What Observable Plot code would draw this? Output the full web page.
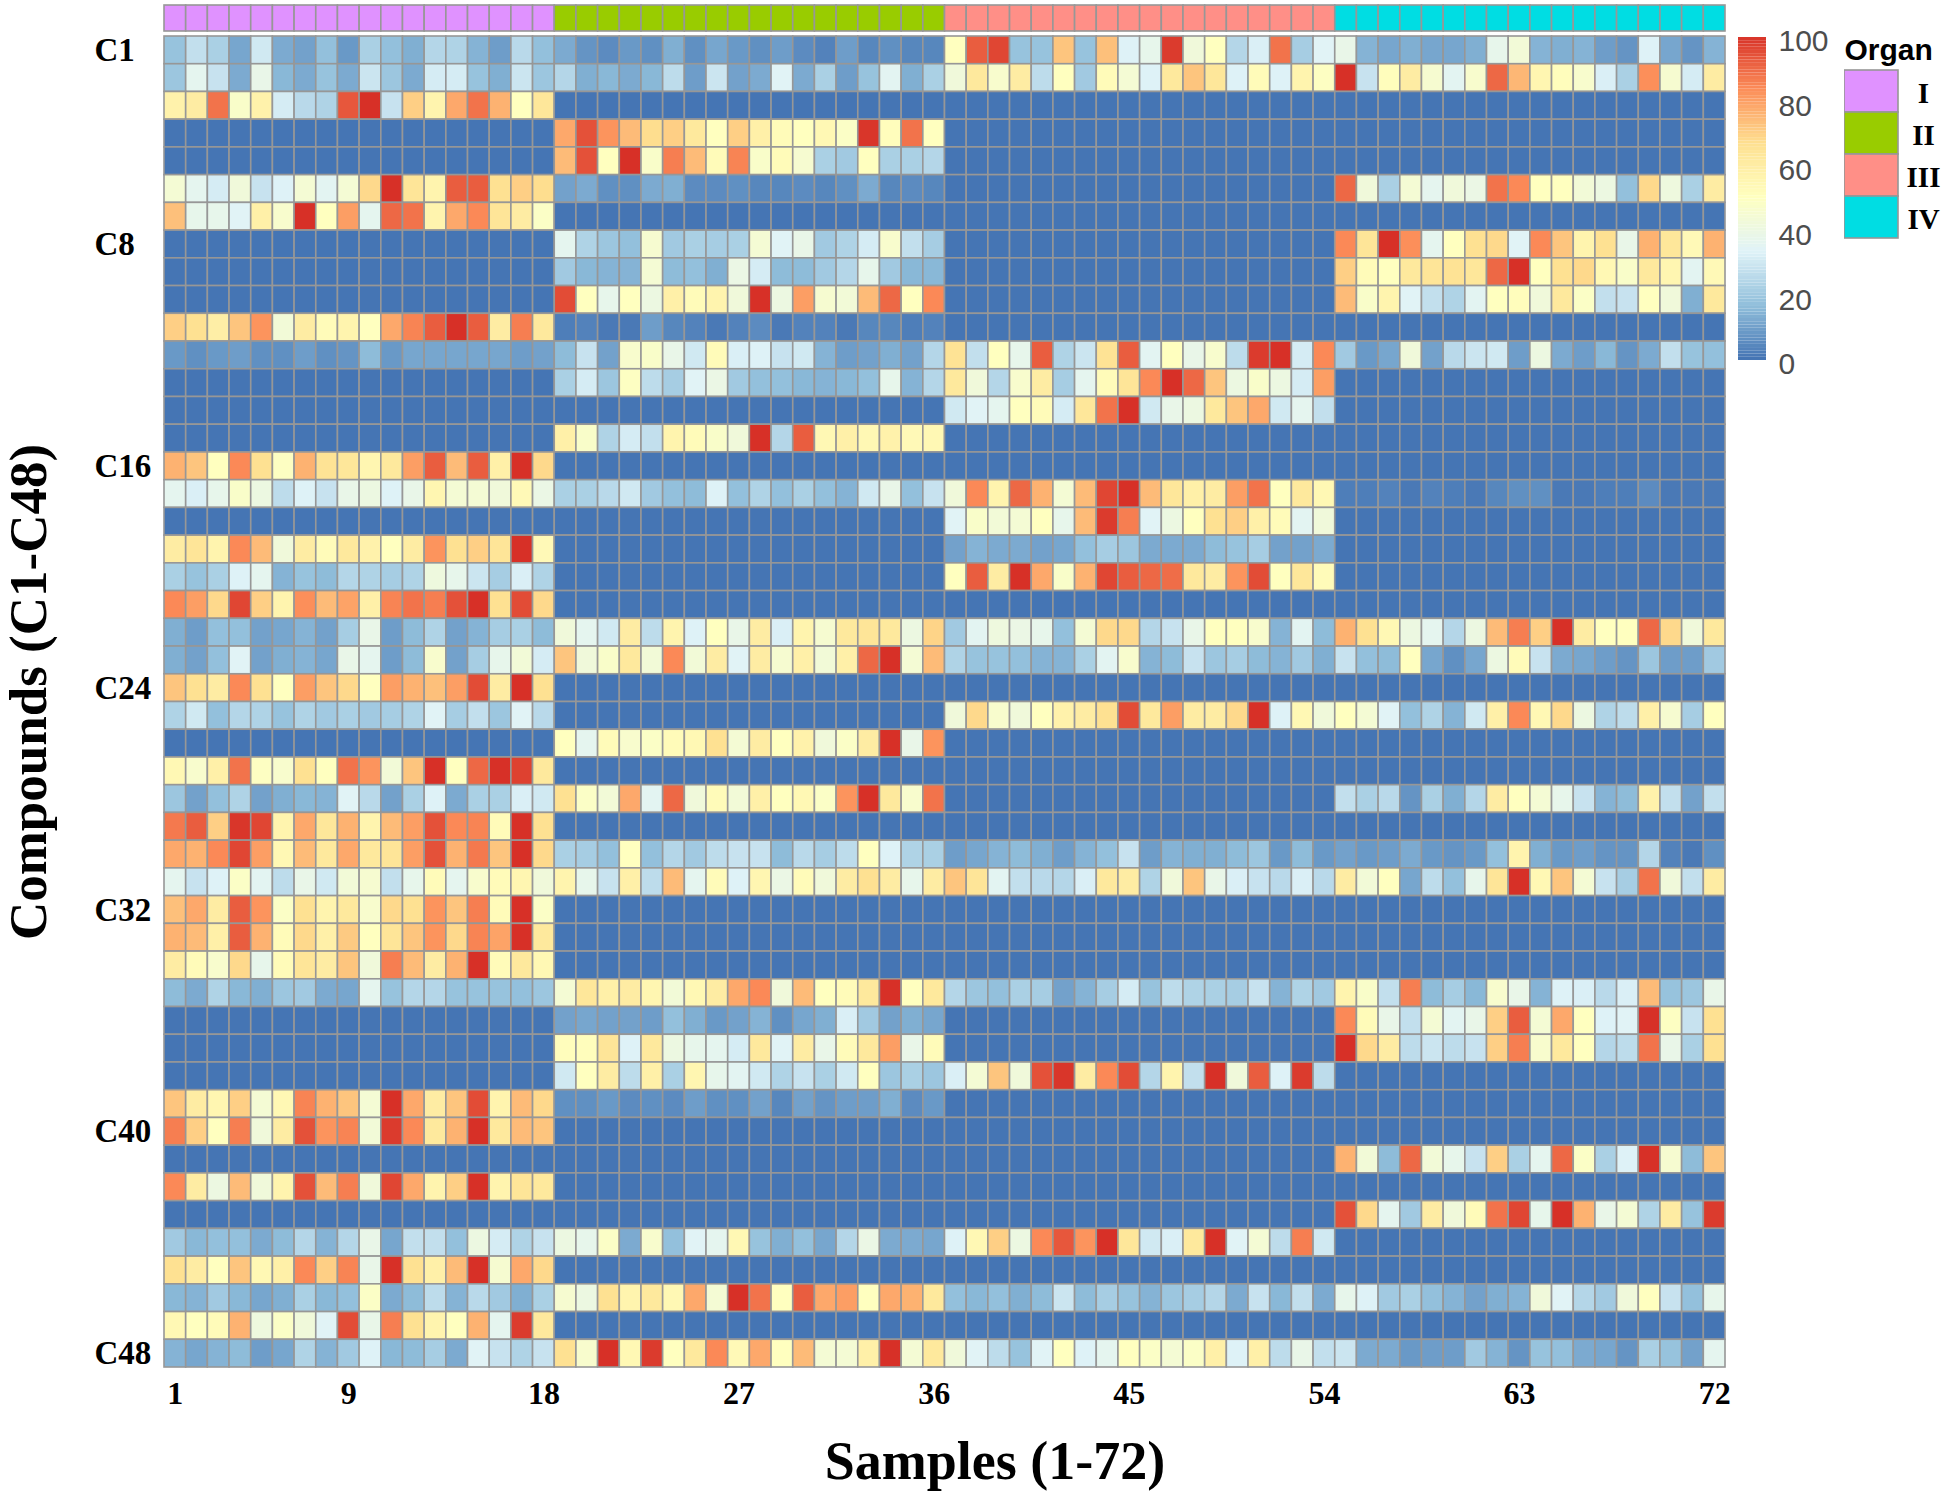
<!DOCTYPE html>
<html><head><meta charset="utf-8">
<script src="https://cdn.jsdelivr.net/npm/d3@7"></script>
<script src="https://cdn.jsdelivr.net/npm/@observablehq/plot@0.6"></script>
<style>
html,body{margin:0;padding:0;background:#fff}
#stage{position:relative;width:1948px;height:1494px;overflow:hidden}
#stage>*{position:absolute}
</style></head><body><div id="stage"></div>
<script>
const off=[0,0,0,0,0,0,0,0,0,0,0,0,0,0,0,0,0,0];
const C1=[18,27,22,11,30,12,10,17,8,22,17,13,24,23,14,9,25,17,12,7,5,8,6,13,6,11,8,6,9,5,3,9,4,6,4,4,50,92,96,18,18,72,18,73,33,37,98,42,50,24,32,88,21,34,38,14,11,13,11,11,13,37,43,14,13,14,9,7,33,11,7,14];
const C2=[19,36,28,12,38,15,12,18,12,29,19,12,31,31,18,13,29,19,24,13,15,12,15,26,9,29,10,12,34,12,22,9,18,35,13,22,42,62,46,60,26,50,20,52,44,33,62,72,63,33,52,33,56,49,100,28,51,60,45,35,46,90,75,55,51,46,32,22,83,45,31,60];
const C3=[57,60,88,47,57,31,25,23,93,100,28,70,56,78,88,76,50,63,...off,...off,...off];
const C4=[...off,78,94,82,74,67,70,62,50,70,58,52,50,54,48,99,51,88,50,...off,...off];
const C5=[...off,74,94,50,100,47,86,74,52,85,47,52,45,22,20,50,22,22,24,...off,...off];
const C6=[44,36,31,42,28,33,44,35,44,68,100,64,56,92,92,66,70,67,10,12,6,6,12,13,5,5,6,4,4,5,4,6,12,4,5,4,...off,90,42,22,44,36,42,39,88,84,50,50,43,40,17,68,41,22,60];
const C7=[73,37,37,34,58,46,100,50,80,36,90,88,56,78,84,64,60,48,...off,...off,...off];
const C8=[...off,36,23,19,17,45,20,22,21,22,44,34,38,20,23,31,46,27,21,...off,84,64,100,83,36,50,66,68,34,84,72,56,66,38,76,63,53,76];
const C9=[...off,20,15,14,14,44,16,17,13,39,31,16,16,20,24,37,20,15,15,...off,70,52,50,62,64,65,63,90,100,50,66,68,54,47,62,55,35,53];
const C10=[...off,95,50,37,50,40,58,52,56,42,100,40,80,45,43,74,90,50,84,...off,74,47,56,34,27,23,35,50,51,42,62,48,27,28,50,42,13,62];
const C11=[70,66,59,72,82,43,60,52,56,50,78,85,92,100,92,60,86,62,2,3,1,1,9,4,3,1,3,5,1,3,3,1,4,4,2,3,...off,...off];
const C12=[8,6,8,9,6,6,9,6,7,16,8,11,11,11,11,11,9,10,16,28,10,46,47,38,30,52,32,33,28,30,14,9,10,13,10,24,65,27,50,37,92,23,29,65,92,35,50,38,46,26,98,100,31,84,20,8,11,42,10,25,29,30,9,40,12,9,15,7,12,27,18,17];
const C13=[...off,22,31,19,49,26,21,34,39,20,17,17,15,14,15,17,37,14,24,62,42,24,46,60,21,36,52,64,84,100,90,72,40,47,40,31,80,...off];
const C14=[...off,...off,30,34,36,50,52,31,63,88,100,30,38,40,62,72,78,30,36,27,...off];
const C15=[...off,58,47,23,31,27,56,52,47,42,100,24,92,54,58,54,57,53,54,...off,...off];
const C16=[76,72,50,84,66,49,76,65,63,55,62,80,92,74,92,58,100,68,...off,...off,...off];
const C17=[36,32,37,47,40,26,33,28,38,40,33,38,55,44,44,42,53,39,22,22,25,30,20,17,16,33,17,23,17,22,17,14,30,38,17,28,42,84,56,90,76,44,74,96,100,74,63,58,60,80,88,50,62,54,2,2,3,1,3,2,1,4,6,6,1,1,2,2,5,1,1,1];
const C18=[...off,...off,34,47,43,44,50,37,74,98,86,34,40,50,66,70,58,52,35,42,...off];
const C19=[60,64,56,84,74,42,60,52,62,57,50,60,82,66,70,64,100,53,...off,10,14,12,12,10,11,17,21,19,12,12,12,16,18,21,10,10,12,...off];
const C20=[22,18,22,33,36,14,18,16,24,23,21,23,41,37,29,21,32,23,...off,50,92,60,100,78,47,76,96,92,90,89,62,60,82,95,50,63,52,...off];
const C21=[84,80,68,96,70,56,83,74,79,58,85,88,86,94,100,66,95,68,...off,...off,...off];
const C22=[13,9,17,17,10,11,14,10,21,38,9,16,23,10,14,21,22,16,42,36,30,60,26,56,33,50,38,60,32,56,45,62,64,62,40,69,20,35,41,39,37,17,44,68,68,24,28,38,50,50,46,14,35,16,76,66,54,40,36,24,40,74,86,70,100,60,50,50,90,68,42,62];
const C23=[13,10,17,34,10,13,14,11,38,36,9,16,46,10,21,37,43,31,72,42,47,62,43,84,43,60,34,60,45,58,43,58,90,100,44,74,23,18,18,17,14,14,22,35,46,14,16,28,19,21,16,14,20,13,28,17,16,50,11,6,11,40,52,28,12,11,9,7,19,9,9,20];
const C24=[72,66,60,84,66,50,80,72,68,50,80,76,73,80,95,60,100,66,...off,...off,...off];
const C25=[23,30,17,24,23,18,23,20,22,20,21,23,34,21,27,19,34,25,...off,42,68,46,42,50,57,60,66,95,62,80,60,60,68,100,33,54,42,50,44,34,17,23,14,30,58,84,54,68,40,23,26,58,45,21,50];
const C26=[...off,50,36,52,46,48,52,54,66,44,60,50,57,42,48,60,100,38,82,...off,...off];
const C27=[54,46,58,88,49,46,66,50,88,82,43,72,100,50,90,100,97,62,...off,...off,...off];
const C28=[19,10,17,23,10,13,15,14,34,25,10,22,33,12,22,22,32,30,66,48,43,78,35,90,42,52,43,58,50,54,48,82,100,62,46,88,...off,27,22,25,7,22,13,24,60,50,44,37,28,14,16,57,27,10,27];
const C29=[87,92,70,99,96,56,78,63,76,56,74,80,94,84,85,52,100,66,...off,...off,...off];
const C30=[78,76,84,96,80,54,74,62,78,62,64,80,94,76,87,72,100,68,22,21,17,50,17,24,20,26,28,28,16,25,21,26,50,33,23,22,9,11,14,16,13,9,14,17,28,9,14,13,13,16,19,8,16,8,10,8,9,12,8,7,8,17,56,13,8,9,7,7,24,3,1,6];
const C31=[36,28,33,48,35,26,38,30,43,45,27,37,52,36,46,52,55,42,56,37,28,58,26,74,36,52,33,55,39,52,42,60,66,60,37,60,72,64,35,27,25,24,32,62,60,23,42,72,38,32,28,25,32,25,60,43,50,11,26,17,37,64,100,54,72,44,28,21,88,42,27,60];
const C32=[73,78,60,92,82,48,66,56,62,46,68,66,82,72,86,52,100,48,...off,...off,...off];
const C33=[76,74,58,92,76,52,68,58,71,50,64,72,82,68,85,79,100,62,...off,...off,...off];
const C34=[60,52,46,68,37,52,64,60,72,42,86,74,60,76,100,52,62,54,...off,...off,...off];
const C35=[16,12,23,15,13,19,20,12,11,36,18,24,24,18,18,18,17,19,44,63,58,60,55,43,54,60,78,84,42,74,50,52,62,100,50,62,24,19,17,22,21,10,14,21,31,18,26,23,22,21,28,14,23,20,56,47,27,86,16,21,15,46,38,14,33,32,25,32,74,18,19,38];
const C36=[...off,10,11,10,10,9,17,13,8,10,14,6,11,13,32,20,10,13,11,...off,84,52,38,27,44,35,38,70,92,44,78,50,33,34,100,49,28,66];
const C37=[...off,51,51,64,33,62,40,37,36,31,62,34,60,38,52,62,80,38,52,...off,100,68,60,26,29,26,28,70,86,46,62,50,24,26,88,38,22,66];
const C38=[...off,30,50,60,26,58,22,55,37,35,30,23,28,22,30,50,19,22,19,32,44,72,42,94,99,60,84,95,24,56,27,100,42,92,33,98,26,...off];
const C39=[72,60,55,70,44,54,85,76,72,44,100,78,60,72,95,56,74,68,6,6,8,5,6,5,9,6,6,10,4,10,7,9,9,13,5,8,...off,...off];
const C40=[86,70,50,86,42,60,94,82,85,43,98,84,62,76,100,62,74,72,...off,...off,...off];
const C41=[...off,...off,...off,76,43,16,90,43,37,28,70,22,36,90,48,22,33,100,45,16,72];
const C42=[84,60,40,74,42,56,94,74,86,42,96,78,56,70,100,56,64,62,...off,...off,...off];
const C43=[...off,...off,...off,94,68,36,20,60,42,52,88,96,37,100,76,38,44,23,60,18,98];
const C44=[20,15,17,17,12,16,24,14,24,38,11,27,27,17,40,31,23,28,40,37,48,12,46,17,34,36,54,18,13,17,11,24,39,12,12,11,33,54,70,40,84,93,82,100,63,30,32,62,100,34,44,26,86,30,...off];
const C45=[66,60,50,72,54,58,84,70,85,38,100,66,58,74,100,45,78,68,...off,...off,...off];
const C46=[15,14,20,15,11,13,22,15,17,48,12,16,26,14,25,20,13,22,45,40,66,56,62,54,78,44,100,88,50,92,78,80,50,78,76,62,17,15,17,13,16,29,16,21,18,14,19,21,24,12,28,15,27,12,37,33,20,22,17,14,10,13,14,42,34,24,20,42,50,28,17,37];
const C47=[54,50,52,76,41,48,42,34,95,38,86,66,56,50,76,36,98,62,...off,...off,...off];
const C48=[14,11,14,16,9,11,23,14,20,33,15,16,21,12,34,28,23,28,66,46,100,54,98,50,62,84,53,78,50,74,44,44,58,100,44,62,42,34,26,18,34,50,33,36,50,48,44,48,58,33,58,26,38,27,29,12,12,8,9,9,20,14,7,18,17,12,11,7,22,18,10,36];

const rows=[C1,C2,C3,C4,C5,C6,C7,C8,C9,C10,C11,C12,C13,C14,C15,C16,C17,C18,C19,C20,C21,C22,C23,C24,C25,C26,C27,C28,C29,C30,C31,C32,C33,C34,C35,C36,C37,C38,C39,C40,C41,C42,C43,C44,C45,C46,C47,C48];
const compounds=rows.map((_,i)=>"C"+(i+1));
const samples=d3.range(1,73);
const organs=["I","II","III","IV"];
const organOf=s=>organs[Math.floor((s-1)/18)];
const organColors=["#e092ff","#99cc00","#ff8f87","#00dde3"];
const xTicks=[1,9,18,27,36,45,54,63,72];
const yTicks=["C1","C8","C16","C24","C32","C40","C48"];
const barTicks=[0,20,40,60,80,100];
const stops=[0,16.67,33.33,50,66.67,83.33,100];
const ramp=["#4575b4","#91bfdb","#e0f3f8","#ffffbf","#fee090","#fc8d59","#d73027"];

const serif='"Liberation Serif","Times New Roman",serif';
const sans='"Liberation Sans",Arial,sans-serif';
const grid="#979797";
const table=rows.flatMap((r,i)=>r.map((v,j)=>({compound:compounds[i],sample:samples[j],value:v})));
const colorScale={type:"linear",domain:stops,range:ramp,interpolate:"rgb"};
const stage=document.getElementById("stage");
function put(el,left,top){el.style.left=left+"px";el.style.top=top+"px";stage.appendChild(el);return el;}

// annotation strip
put(Plot.plot({
  width:1726,height:32,marginLeft:164,marginRight:1,marginTop:5,marginBottom:1,
  style:{background:"transparent"},
  x:{type:"band",domain:samples,padding:0,axis:null},
  y:{axis:null},
  color:{domain:organs,range:organColors},
  marks:[Plot.cell(samples,{x:d=>d,fill:organOf,stroke:grid,strokeWidth:1.6})]
}),0,0);

// main heatmap
put(Plot.plot({
  width:1760,height:1494,marginLeft:164,marginRight:35,marginTop:36,marginBottom:127,
  style:{background:"transparent"},
  x:{type:"band",domain:samples,padding:0,axis:null},
  y:{type:"band",domain:compounds,padding:0,axis:null},
  color:colorScale,
  marks:[
    Plot.cell(table,{x:"sample",y:"compound",fill:"value",stroke:grid,strokeWidth:1.6}),
    Plot.axisX(xTicks,{anchor:"bottom",tickSize:0,tickPadding:14,dx:0,fontSize:32,fontWeight:"bold",fontFamily:serif,fill:"#000",label:null}),
    Plot.axisY(yTicks,{anchor:"left",tickSize:0,tickPadding:0,textAnchor:"start",dx:-70,fontSize:33,fontWeight:"bold",fontFamily:serif,fill:"#000",label:null}),
    Plot.text(["Samples (1-72)"],{frameAnchor:"bottom",dx:50,dy:111,fontSize:54,fontWeight:"bold",fontFamily:serif,fill:"#000"}),
    Plot.text(["Compounds (C1-C48)"],{frameAnchor:"left",textAnchor:"middle",rotate:-90,dx:-135,dy:-10,fontSize:53,fontWeight:"bold",fontFamily:serif,fill:"#000"})
  ]
}),0,0);

// colour bar
const steps=d3.range(0,100);
put(Plot.plot({
  width:110,height:380,marginLeft:10,marginRight:72,marginTop:37,marginBottom:20,
  style:{background:"transparent"},
  x:{domain:[0,1],axis:null},
  y:{domain:[0,100],axis:null},
  color:colorScale,
  marks:[
    Plot.rect(steps,{x1:0,x2:1,y1:d=>d,y2:d=>d+1,fill:d=>d}),
    Plot.axisY(barTicks,{anchor:"right",tickSize:0,tickPadding:12,dy:4,fontSize:30,fontFamily:sans,fill:"#4d4d4d",label:null})
  ]
}),1728,0);

// organ legend
put(Plot.plot({
  width:104,height:250,marginLeft:0,marginRight:50,marginTop:70,marginBottom:12,
  style:{background:"transparent"},
  x:{type:"band",domain:["k"],padding:0,axis:null},
  y:{type:"band",domain:organs,padding:0,axis:null},
  color:{domain:organs,range:organColors},
  marks:[
    Plot.cell(organs,{x:()=>"k",y:d=>d,fill:d=>d,stroke:grid,strokeWidth:1.6}),
    Plot.text(organs,{x:()=>"k",y:d=>d,text:d=>d,dx:52,dy:2,fontSize:29,fontWeight:"bold",fontFamily:serif,fill:"#000"}),
    Plot.text(["Organ"],{frameAnchor:"top-left",dy:-32,fontSize:30,fontWeight:"bold",fontFamily:sans,fill:"#000"})
  ]
}),1844,0);
</script></body></html>
